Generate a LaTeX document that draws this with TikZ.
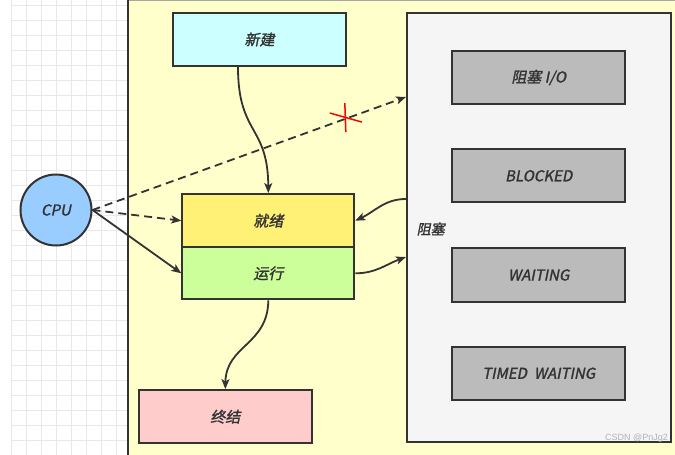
\documentclass[tikz,border=0pt]{standalone}
\usepackage{fontspec}
\usetikzlibrary{arrows.meta,calc}
\newfontfamily\lblfont{Noto Sans CJK SC}[FakeSlant=0.2,FakeBold=1.5]
\definecolor{strk}{HTML}{333333}
\definecolor{bgyel}{HTML}{FFFFCC}
\definecolor{gridc}{HTML}{E8E8E8}
\definecolor{cnew}{HTML}{CCFFFF}
\definecolor{cready}{HTML}{FFF176}
\definecolor{crun}{HTML}{CCFF99}
\definecolor{cterm}{HTML}{FFCCCC}
\definecolor{cblk}{HTML}{F5F5F5}
\definecolor{cgray}{HTML}{BBBBBB}
\definecolor{ccpu}{HTML}{99CCFF}
\tikzset{
  box/.style={draw=strk,line width=2pt,rectangle,inner sep=0pt,font=\lblfont\fontsize{15}{17}\selectfont,text=strk},
  conn/.style={draw=strk,line width=1.8pt,-{Stealth[length=10pt,width=8pt,inset=2.5pt]}},
  dconn/.style={conn,dash pattern=on 8pt off 5pt},
}
\begin{document}
\begin{tikzpicture}[x=1pt,y=-1pt]
\useasboundingbox (0,0) rectangle (675,455);
\fill[white] (0,0) rectangle (675,455);
% grid
\foreach \gx in {11.7,26.7,...,127} \draw[gridc,line width=1pt] (\gx,0) -- (\gx,455);
\foreach \gy in {5,20,...,455} \draw[gridc,line width=1pt] (11.7,\gy) -- (127,\gy);
% yellow region
\fill[bgyel] (127.5,0) rectangle (675,455);
\draw[gray!70,line width=1pt] (127.5,0.5) -- (675,0.5);
\draw[strk,line width=2pt] (127.5,0) -- (127.5,455);
% nodes
\node[box,fill=cnew,minimum width=173pt,minimum height=53pt] (new) at (259.5,39.5) {新建};
\node[box,fill=cblk,minimum width=264.5pt,minimum height=429pt] (blk) at (539.2,227.5) {};
\node[box,fill=cgray,minimum width=173pt,minimum height=53.6pt] (bio) at (538.7,77.5) {阻塞 I/O};
\node[box,fill=cgray,minimum width=173pt,minimum height=53pt] (blocked) at (538.7,175.8) {BLOCKED};
\node[box,fill=cgray,minimum width=173pt,minimum height=53.4pt] (waiting) at (538.7,275) {WAITING};
\node[box,fill=cgray,minimum width=173pt,minimum height=53.3pt] (timed) at (538.7,373.3) {TIMED\hspace{7pt}WAITING};
\node[anchor=west,text=strk,font=\lblfont\fontsize{14}{16}\selectfont,inner sep=0pt] (blklbl) at (416.5,229) {阻塞};
\node[box,fill=cready,minimum width=172pt,minimum height=53.3pt] (ready) at (268.3,220.7) {就绪};
\node[box,fill=crun,minimum width=172pt,minimum height=52pt] (run) at (268.3,273.3) {运行};
\node[box,fill=cterm,minimum width=172.7pt,minimum height=53.3pt] (term) at (225.3,416.7) {终结};
\node[box,circle,fill=ccpu,minimum size=71pt] (cpu) at (56,210) {CPU};
% connectors
\draw[conn] ([xshift=-21.5pt]new.south) .. controls (238,135) and (268,125) .. (ready.north);
\draw[dconn] (cpu.east) -- coordinate[pos=0.805] (xmark) ([yshift=130.5pt]blk.west);
\draw[dconn] (cpu.east) -- (ready.west);
\draw[conn] (cpu.east) -- (run.west);
\draw[conn] ([yshift=28.5pt]blk.west) to[out=180,in=25] (ready.east);
\draw[conn] (run.east) to[out=0,in=200] ([yshift=-29.5pt]blk.west);
\draw[conn] (run.south) .. controls (268,345) and (226,345) .. (term.north);
% red cross
\draw[red,line width=1.5pt] ($(xmark)+(-15,-6)$) -- ($(xmark)+(17,3)$);
\draw[red,line width=1.5pt] ($(xmark)+(0,-16)$) -- ($(xmark)+(1,13)$);
% watermark
\node[anchor=east,text=gray!60,font=\fontspec{Liberation Sans}\fontsize{9}{10}\selectfont,inner sep=0pt] (wm) at (668,438) {CSDN @PnJg2};
\end{tikzpicture}
\end{document}
